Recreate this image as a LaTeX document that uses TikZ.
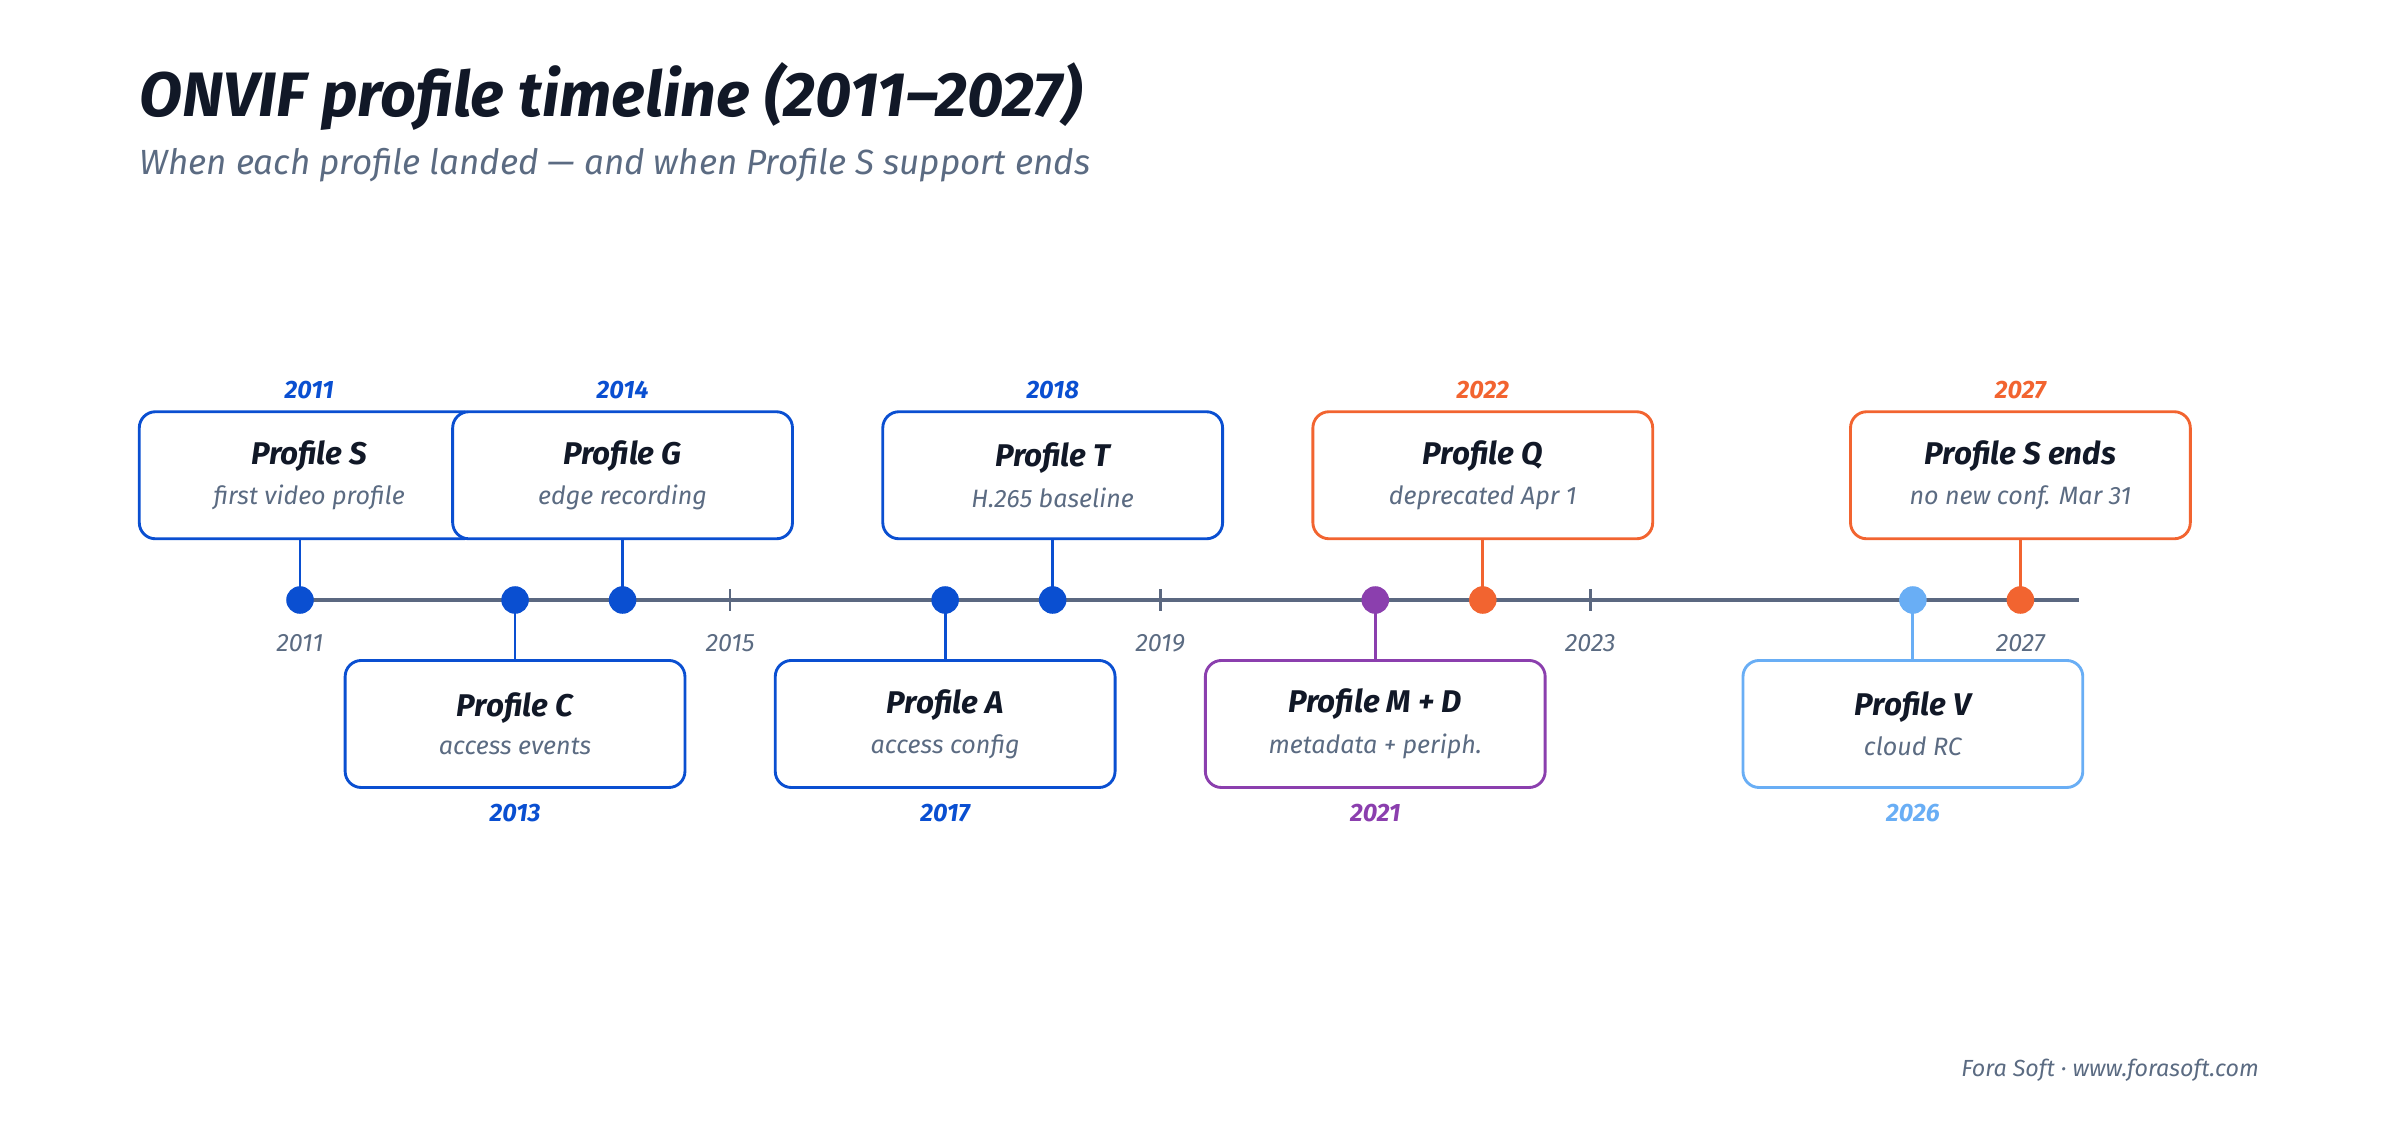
\documentclass[tikz,border=0pt]{standalone}
\usepackage{fontspec}
\setmainfont{Fira Sans}
\usetikzlibrary{positioning}
\definecolor{pblue}{HTML}{0A4FD1}
\definecolor{porange}{HTML}{F26430}
\definecolor{ppurple}{HTML}{8B3FAE}
\definecolor{plight}{HTML}{69AEF5}
\definecolor{axisgray}{HTML}{5B6880}
\definecolor{inkdark}{HTML}{111827}
\definecolor{inkgray}{HTML}{5B6B82}
\tikzset{
  profbox/.style={draw=#1, line width=1.6pt, fill=white, rounded corners=9pt,
    minimum width=6.66cm, minimum height=2.49cm},
  evdot/.style={circle, fill=#1, inner sep=0pt, minimum size=0.54cm},
  yearlbl/.style={text=#1, font=\fontsize{14}{16}\selectfont\bfseries\itshape},
  ticklbl/.style={text=inkgray, font=\fontsize{14}{16}\selectfont\itshape},
}
\newcommand{\profname}[2]{{\fontsize{17.5}{20}\selectfont\bfseries\itshape\color{inkdark}#1}\\[7pt]{\fontsize{14}{16}\selectfont\itshape\color{inkgray}#2}}
\begin{document}
\begin{tikzpicture}[x=0.03cm,y=-0.03cm]
  \useasboundingbox (0,0) rectangle (1568,732);
  % heading
  \node[anchor=base west, inner sep=0pt, text=inkdark, font=\fontsize{35}{40}\selectfont\bfseries\itshape] (title) at (91,76) {ONVIF profile timeline (2011–2027)};
  \node[anchor=base west, inner sep=0pt, text=inkgray, font=\fontsize{19.5}{22}\selectfont\itshape] (subtitle) at (91,114) {When each profile landed — and when Profile S support ends};
  % axis
  \coordinate (axL) at (196,392);
  \coordinate (axR) at (1358,392);
  \draw[axisgray, line width=1.8pt] (axL) -- (axR);
  \foreach \yr/\x in {2011/196,2015/477,2019/758,2023/1039,2027/1320}{
    \draw[axisgray, line width=1.5pt] (\x,385) -- (\x,399);
    \node[ticklbl] (tick\yr) at (\x,420) {\yr};
  }
  % connectors
  \foreach \x/\c/\ya/\yb in {196/pblue/392/352,406.75/pblue/392/352,687.75/pblue/392/352,968.75/porange/392/352,1320/porange/392/352,
                             336.5/pblue/392/431,617.5/pblue/392/431,898.5/ppurple/392/431,1249.75/plight/392/431}
    \draw[\c, line width=1.6pt] (\x,\ya) -- (\x,\yb);
  % dots
  \foreach \n/\x/\c in {s/196/pblue,c/336.5/pblue,g/406.75/pblue,a/617.5/pblue,t/687.75/pblue,
                        md/898.5/ppurple,q/968.75/porange,v/1249.75/plight,send/1320/porange}
    \node[evdot=\c] (dot\n) at (\x,392) {};
  % upper boxes
  \node[profbox=pblue, align=center] (boxS) at (202,310.5) {\profname{Profile S}{first video profile}};
  \node[profbox=pblue, align=center] (boxG) at (406.75,310.5) {\profname{Profile G}{edge recording}};
  \node[profbox=pblue, align=center] (boxT) at (687.75,310.5) {\profname{Profile T}{H.265 baseline}};
  \node[profbox=porange, align=center] (boxQ) at (968.75,310.5) {\profname{Profile Q}{deprecated Apr 1}};
  \node[profbox=porange, align=center] (boxSend) at (1320,310.5) {\profname{Profile S ends}{no new conf. Mar 31}};
  \node[yearlbl=pblue, above=3pt of boxS] {2011};
  \node[yearlbl=pblue, above=3pt of boxG] {2014};
  \node[yearlbl=pblue, above=3pt of boxT] {2018};
  \node[yearlbl=porange, above=3pt of boxQ] {2022};
  \node[yearlbl=porange, above=3pt of boxSend] {2027};
  % lower boxes
  \node[profbox=pblue, align=center] (boxC) at (336.5,473) {\profname{Profile C}{access events}};
  \node[profbox=pblue, align=center] (boxA) at (617.5,473) {\profname{Profile A}{access config}};
  \node[profbox=ppurple, align=center] (boxMD) at (898.5,473) {\profname{Profile M + D}{metadata + periph.}};
  \node[profbox=plight, align=center] (boxV) at (1249.75,473) {\profname{Profile V}{cloud RC}};
  \node[yearlbl=pblue, below=5pt of boxC] {2013};
  \node[yearlbl=pblue, below=5pt of boxA] {2017};
  \node[yearlbl=ppurple, below=5pt of boxMD] {2021};
  \node[yearlbl=plight, below=5pt of boxV] {2026};
  % footer
  \node[anchor=base east, inner sep=0pt, text=inkgray, font=\fontsize{13}{15}\selectfont\itshape] (footer) at (1476,703) {Fora Soft · www.forasoft.com};
\end{tikzpicture}
\end{document}
